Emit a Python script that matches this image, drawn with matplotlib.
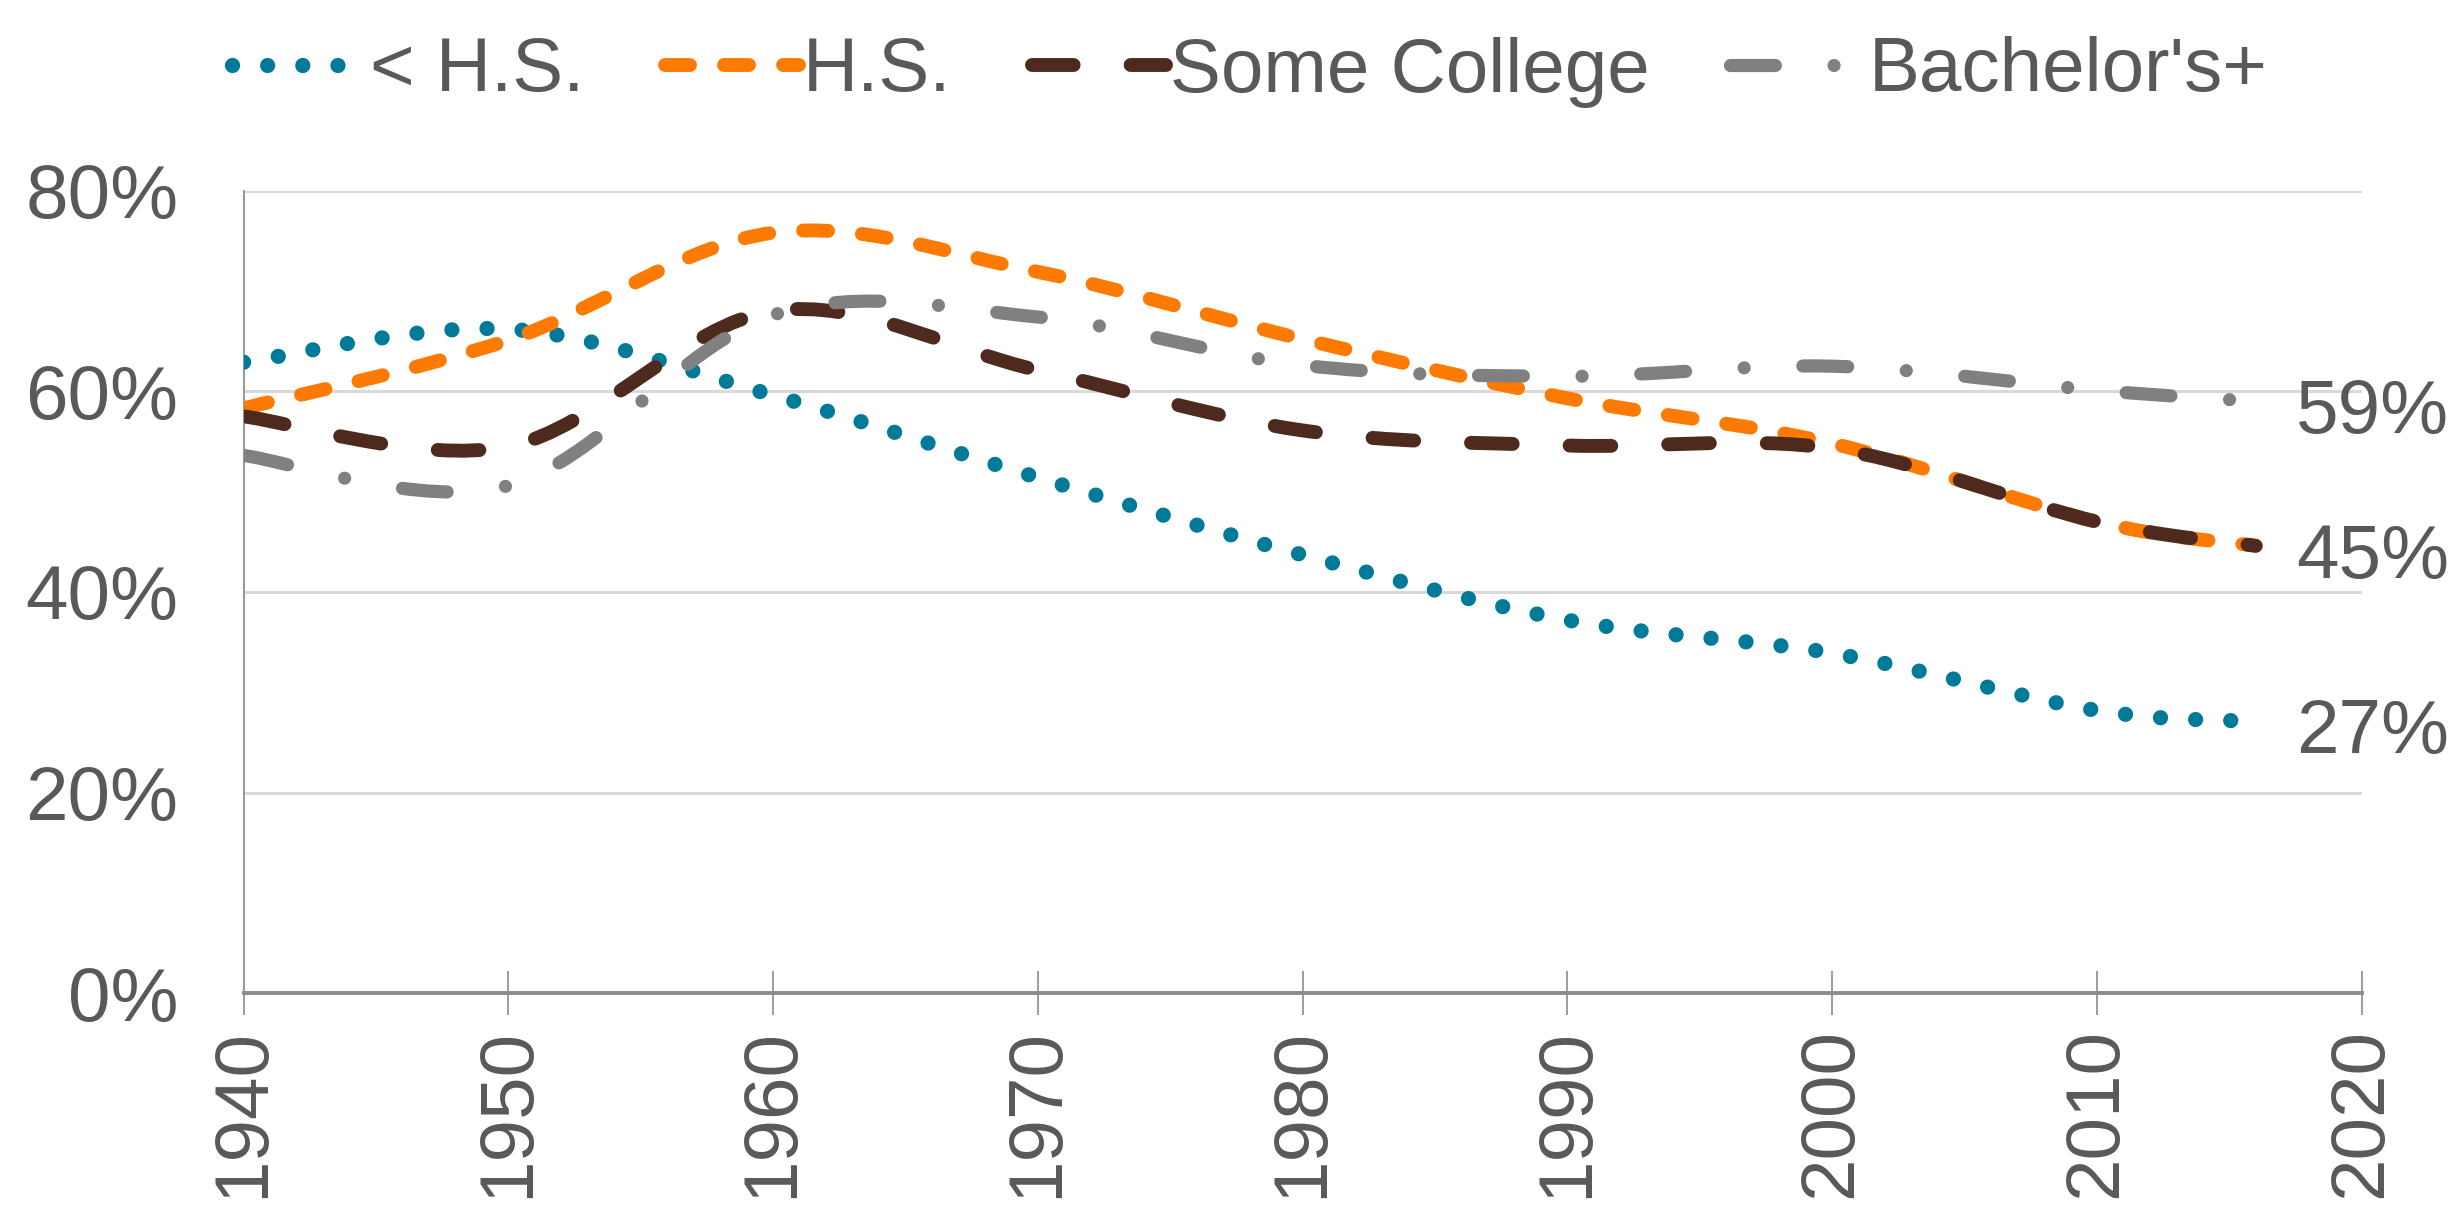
import matplotlib
matplotlib.use("Agg")
import matplotlib.pyplot as plt
from matplotlib.path import Path
from matplotlib.patches import PathPatch
from matplotlib.lines import Line2D
import numpy as np

plt.rcParams['font.family'] = ['Liberation Sans', 'DejaVu Sans']

# ---- data (share, %) ----
years = [1940, 1950, 1960, 1970, 1980, 1990, 2000, 2010, 2016]
less_hs = [62.9, 66.2, 59.6, 51.4, 43.7, 37.2, 33.9, 28.2, 27.1]
hs = [58.3, 65.1, 75.8, 71.9, 65.2, 59.3, 54.8, 47.0, 44.6]
some_college = [57.5, 54.5, 68.0, 62.1, 56.1, 54.6, 54.3, 47.0, 44.6]
bachelors = [53.6, 50.6, 67.6, 67.4, 62.6, 61.5, 62.5, 60.1, 59.0]
series_names = ["< H.S.", "H.S.", "Some College", "Bachelor's+"]
end_labels = ["27%", "45%", "45%", "59%"]
x_ticks = [1940, 1950, 1960, 1970, 1980, 1990, 2000, 2010, 2020]
y_ticks = [0, 20, 40, 60, 80]

colors = ["#007A99", "#FF7A00", "#4E2A1E", "#808080"]
widths = [11.0, 10.0, 10.0, 9.5]
styles = [(0, (0.001, 2.3)), (0, (1.8, 2.45)), (0, (3.0, 4.1)), (0, (3.4, 4.45, 0.001, 4.45))]
TXT = "#595959"


def smooth_path(xs, ys):
    pts = np.column_stack([xs, ys]).astype(float)
    n = len(pts)
    verts = [pts[0]]
    codes = [Path.MOVETO]
    for i in range(n - 1):
        p0 = pts[max(i - 1, 0)]
        p1 = pts[i]
        p2 = pts[i + 1]
        p3 = pts[min(i + 2, n - 1)]
        verts += [p1 + (p2 - p0) / 6.0, p2 - (p3 - p1) / 6.0, p2]
        codes += [Path.CURVE4] * 3
    return Path(verts, codes)


fig = plt.figure(figsize=(24.49, 12.06), dpi=100)
ax = fig.add_axes([243.6 / 2449, 1 - 993.4 / 1206, (2361.6 - 243.6) / 2449, (993.4 - 190.6) / 1206])
ax.set_xlim(1940, 2020)
ax.set_ylim(0, 80)

ax.set_yticks(y_ticks)
ax.set_yticklabels([f"{v}%" for v in y_ticks])
ax.set_xticks(x_ticks)
ax.set_xticklabels([str(v) for v in x_ticks], rotation=90)
ax.tick_params(axis='y', length=0, pad=47, labelsize=55, labelcolor=TXT)
ax.tick_params(axis='x', direction='inout', length=32, width=1.2, color='#8c8c8c',
               pad=9, labelsize=55, labelcolor=TXT)
ax.grid(axis='y', color='#D9D9D9', lw=2.2)
ax.set_axisbelow(True)
for s in ['top', 'right']:
    ax.spines[s].set_visible(False)
ax.spines['left'].set_color('#9a9a9a')
ax.spines['left'].set_linewidth(1.5)
ax.spines['bottom'].set_color('#8c8c8c')
ax.spines['bottom'].set_linewidth(2.8)

all_series = [less_hs, hs, some_college, bachelors]
handles = []
for vals, c, w, st, name in zip(all_series, colors, widths, styles, series_names):
    patch = PathPatch(smooth_path(years, vals), fill=False, edgecolor=c, lw=w,
                      linestyle=st, capstyle='round', transform=ax.transData, zorder=3)
    ax.add_patch(patch)
    handles.append(Line2D([], [], color=c, lw=w, linestyle=st, dash_capstyle='round',
                          solid_capstyle='round', label=name))

for idx in [0, 1, 3]:
    ax.annotate(end_labels[idx], xy=(years[-1], all_series[idx][-1]), xytext=(29, -9),
                textcoords='offset points', va='center', ha='left', fontsize=55,
                color=TXT, annotation_clip=False)

fig.legend(handles=handles, loc='center left', bbox_to_anchor=(232 / 2449, 1 - 72 / 1206),
           ncol=4, frameon=False, fontsize=55, handlelength=1.75, handletextpad=0.06,
           columnspacing=1.05, borderpad=0, borderaxespad=0, labelcolor=TXT)

fig.savefig("out.png", dpi=100)
